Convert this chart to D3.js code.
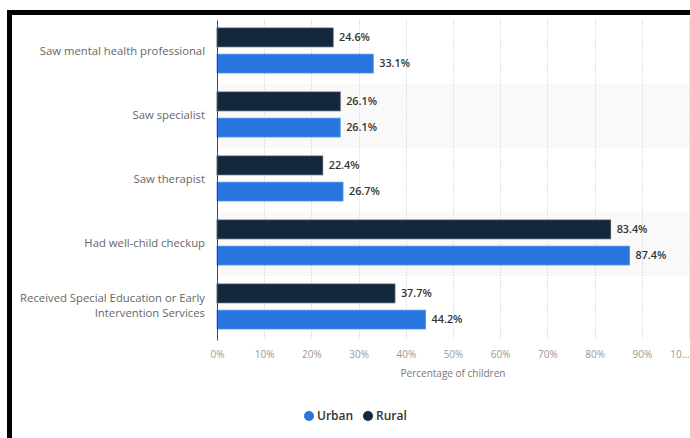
<!DOCTYPE html>
<html>
<head>
<meta charset="utf-8">
<script src="https://cdn.jsdelivr.net/npm/d3@7"></script>
<style>
  body { margin: 0; background: #fff; }
  svg { display: block; font-family: "Open Sans", sans-serif; }
</style>
</head>
<body>
<div id="chart"></div>
<script>
// Data
const categories = [
  "Saw mental health professional",
  "Saw specialist",
  "Saw therapist",
  "Had well-child checkup",
  "Received Special Education or Early Intervention Services"
];
const seriesNames = ["Rural", "Urban"];
const urbanValues = [33.1, 26.1, 26.7, 87.4, 44.2];
const ruralValues = [24.6, 26.1, 22.4, 83.4, 37.7];
const xTicks = [0, 10, 20, 30, 40, 50, 60, 70, 80, 90, 100];

const colors = { Urban: "#2876dd", Rural: "#13273d" };

const width = 690, height = 438;
const plot = { left: 217, right: 689, top: 20, bottom: 340 };

const svg = d3.select("#chart")
  .append("svg")
  .attr("width", width)
  .attr("height", height);

// screenshot frame (thick black border on top and left)
svg.append("path")
  .attr("d", "M9.5,438 V12.5 H690")
  .attr("fill", "none")
  .attr("stroke", "#000")
  .attr("stroke-width", 5);

// Scales
const x = d3.scaleLinear()
  .domain([0, 100])
  .range([plot.left, plot.right]);

const y = d3.scaleBand()
  .domain(categories)
  .range([plot.top, plot.bottom]);

const ySub = d3.scaleBand()
  .domain(seriesNames)
  .range([8, 53])
  .paddingInner(0.28);

const rows = categories.map((c, i) => ({
  category: c,
  Urban: urbanValues[i],
  Rural: ruralValues[i],
  index: i
}));

// alternating row background
svg.append("g")
  .selectAll("rect")
  .data(rows.filter(d => d.index % 2 === 1))
  .join("rect")
  .attr("x", plot.left)
  .attr("y", d => y(d.category))
  .attr("width", width - plot.left)
  .attr("height", y.bandwidth())
  .attr("fill", "#f9f9f9");

// vertical grid
svg.append("g")
  .selectAll("line")
  .data(xTicks.slice(1))
  .join("line")
  .attr("x1", d => Math.round(x(d)) + 0.5)
  .attr("x2", d => Math.round(x(d)) + 0.5)
  .attr("y1", plot.top - 1)
  .attr("y2", plot.bottom)
  .attr("stroke", "#e2e2e2")
  .attr("stroke-dasharray", "2,1");

// bars
const groups = svg.append("g")
  .selectAll("g")
  .data(rows)
  .join("g")
  .attr("transform", d => `translate(0,${y(d.category)})`);

groups.selectAll("rect")
  .data(d => seriesNames.map(s => ({ series: s, value: d[s] })))
  .join("rect")
  .attr("x", x(0))
  .attr("y", d => ySub(d.series))
  .attr("width", d => x(d.value) - x(0))
  .attr("height", ySub.bandwidth())
  .attr("fill", d => colors[d.series])
  .attr("stroke", d => d.series === "Urban" ? "#4b8ee6" : "#3a4b5e")
  .attr("stroke-width", 0.8);

groups.selectAll("text")
  .data(d => seriesNames.map(s => ({ series: s, value: d[s] })))
  .join("text")
  .attr("x", d => x(d.value) + 6)
  .attr("y", d => ySub(d.series) + ySub.bandwidth() / 2)
  .attr("dy", "0.35em")
  .attr("fill", "#333")
  .attr("font-size", 10.8)
  .attr("font-weight", 600)
  .text(d => d.value.toFixed(1) + "%");

// y axis
const yAxis = svg.append("g")
  .attr("transform", `translate(${plot.left},0)`)
  .call(d3.axisLeft(y).tickSize(0).tickPadding(12));
yAxis.select(".domain").attr("stroke", "#444");
yAxis.selectAll(".tick text")
  .attr("fill", "#666")
  .attr("font-size", 11.3)
  .attr("font-family", "'Open Sans', sans-serif")
  .call(wrap, 192);

// x axis
const xAxis = svg.append("g")
  .attr("transform", `translate(0,${plot.bottom})`)
  .call(d3.axisBottom(x)
    .tickValues(xTicks)
    .tickSize(0)
    .tickPadding(11)
    .tickFormat(d => d === 100 ? "10…" : d + "%"));
xAxis.select(".domain").remove();
xAxis.selectAll(".tick text")
  .attr("fill", "#999")
  .attr("font-size", 10)
  .attr("font-family", "'Open Sans', sans-serif");
// last label is clipped by the chart edge, keep it inside
xAxis.selectAll(".tick text")
  .filter(d => d === 100)
  .attr("text-anchor", "end")
  .attr("x", 0);

svg.append("text")
  .attr("x", x(50))
  .attr("y", 377)
  .attr("text-anchor", "middle")
  .attr("fill", "#777")
  .attr("font-size", 10)
  .text("Percentage of children");

// legend
const legendItems = [
  { name: "Urban", cx: 309 },
  { name: "Rural", cx: 368 }
];
const legend = svg.append("g")
  .selectAll("g")
  .data(legendItems)
  .join("g")
  .attr("transform", d => `translate(${d.cx},416)`);
legend.append("circle")
  .attr("r", 5)
  .attr("fill", d => colors[d.name]);
legend.append("text")
  .attr("x", 8)
  .attr("dy", "0.35em")
  .attr("fill", "#333")
  .attr("font-size", 12)
  .attr("font-weight", 600)
  .text(d => d.name);

function wrap(texts, maxWidth) {
  texts.each(function() {
    const text = d3.select(this);
    const words = text.text().split(/\s+/);
    const lines = [];
    let line = [];
    text.text(null);
    const probe = text.append("tspan");
    words.forEach(w => {
      line.push(w);
      probe.text(line.join(" "));
      if (probe.node().getComputedTextLength() > maxWidth && line.length > 1) {
        line.pop();
        lines.push(line.join(" "));
        line = [w];
      }
    });
    lines.push(line.join(" "));
    probe.remove();
    const lh = 15;
    const x0 = text.attr("x");
    text.attr("dy", null);
    lines.forEach((l, i) => {
      text.append("tspan")
        .attr("x", x0)
        .attr("y", (i - (lines.length - 1) / 2) * lh - 2 * (lines.length - 1))
        .attr("dominant-baseline", "middle")
        .text(l);
    });
  });
}
</script>
</body>
</html>
